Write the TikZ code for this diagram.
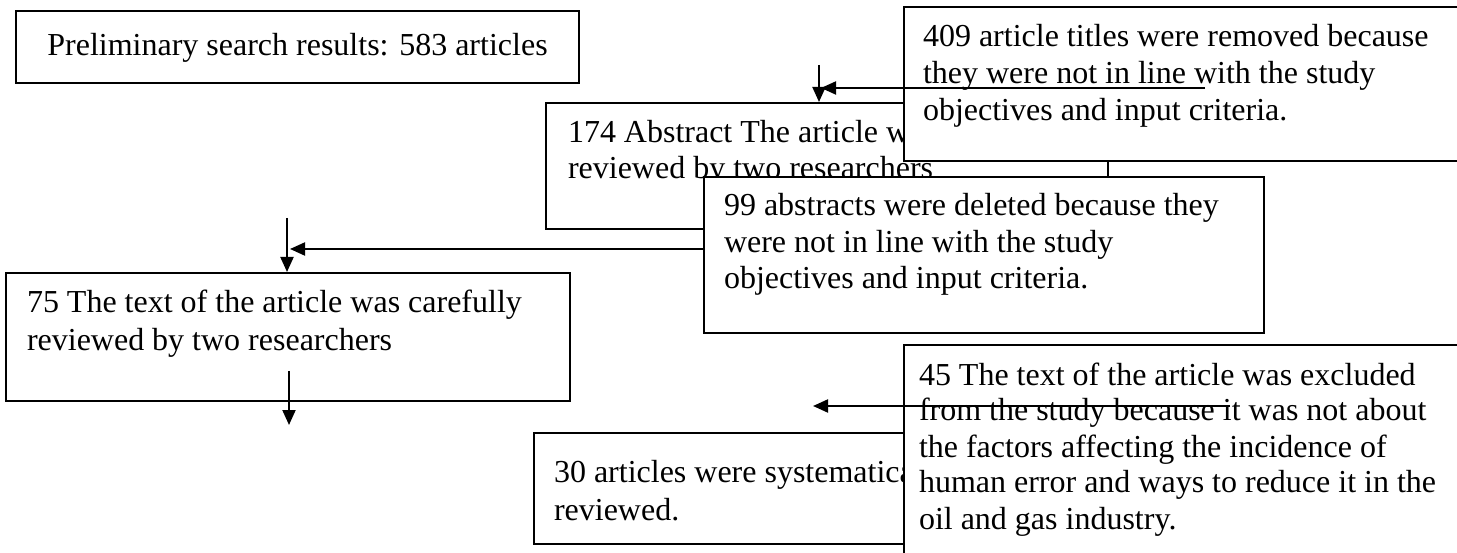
\documentclass[tikz,border=0pt]{standalone}
\usepackage{fontspec}
\setmainfont{Liberation Serif}
\usetikzlibrary{arrows.meta}
% #1 width, #2 height, #3 first baseline offset, #4 left pad, #5 baselineskip, #6 text (all in pt)
\newcommand{\btext}[6]{\parbox[t][#2pt][t]{#1pt}{\fontsize{32pt}{#5pt}\selectfont\vspace*{\dimexpr#3pt-\ht\strutbox\relax}\raggedright\leftskip=#4pt\relax\strut #6}}
\newcommand{\ctext}[4]{\parbox[t][#2pt][t]{#1pt}{\fontsize{32pt}{38pt}\selectfont\vspace*{\dimexpr#3pt-\ht\strutbox\relax}\centering\strut #4}}
\tikzset{
  box/.style={draw=black, fill=white, line width=2pt, inner sep=0pt, anchor=north west},
  arr/.style={line width=2pt, -{Triangle[length=15pt,width=13pt]}}
}
\begin{document}
\begin{tikzpicture}[x=1pt,y=-1pt]
\useasboundingbox (0,0) rectangle (1457,553);
\fill[white] (0,0) rectangle (1457,553);
\clip (0,0) rectangle (1457,553);
\node[box] (prelim) at (15,10) {\ctext{563}{72}{45}{Preliminary search results: 583 articles}};
\node[box] (n174) at (545,102) {\btext{562}{126}{40}{22}{36}{174 Abstract The article was carefully\\reviewed by two researchers}};
\node[box] (n409) at (903,6) {\btext{600}{154}{40}{19}{37}{409 article titles were removed because\\they were not in line with the study\\objectives and input criteria.}};
\node[box] (n99) at (703,176) {\btext{560}{156}{39}{20}{36.5}{99 abstracts were deleted because they\\were not in line with the study\\objectives and input criteria.}};
\node[box] (n75) at (5,272) {\btext{564}{128}{40}{21}{38}{75 The text of the article was carefully\\reviewed by two researchers}};
\node[box] (n30) at (533,432) {\btext{500}{111}{49}{20}{38}{30 articles were systematically\\reviewed.}};
\node[box] (n45) at (903,344) {\btext{600}{260}{40}{15}{36}{45 The text of the article was excluded\\from the study because it was not about\\the factors affecting the incidence of\\human error and ways to reduce it in the\\oil and gas industry.}};
% connectors
\coordinate (a1s) at (819,65);
\draw[arr] (a1s) -- (a1s |- n174.north);
\coordinate (a2s) at (1205,88);
\coordinate (a2e) at (821,88);
\draw[arr] (a2s) -- (a2e);
\coordinate (a3s) at (705,249);
\coordinate (a3e) at (290,249);
\draw[arr] (a3s) -- (a3e);
\coordinate (a4s) at (287,218);
\draw[arr] (a4s) -- (a4s |- n75.north);
\coordinate (a5s) at (289,371);
\coordinate (a5e) at (289,425);
\draw[arr] (a5s) -- (a5e);
\coordinate (a6s) at (1230,406);
\coordinate (a6e) at (813,406);
\draw[arr] (a6s) -- (a6e);
\end{tikzpicture}
\end{document}
